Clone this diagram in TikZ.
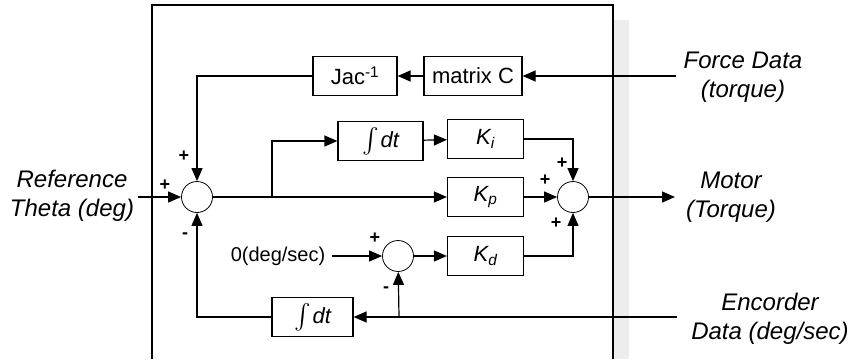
\documentclass[tikz,border=0pt]{standalone}
\usepackage{exscale}
\usepackage{fontspec}
\setmainfont{Liberation Sans}
\usetikzlibrary{arrows.meta,positioning}

\begin{document}
\begin{tikzpicture}[x=1pt, y=-1pt,
  block/.style={rectangle, draw, line width=1.2pt, inner sep=0pt,
                minimum width=#1, minimum height=39pt,
                font=\fontsize{22}{26}\selectfont},
  block/.default=76pt,
  sum/.style={circle, draw, line width=0.8pt, minimum size=31pt, inner sep=0pt},
  io/.style={align=center, font=\fontsize{24}{29}\selectfont\itshape},
  sgn/.style={font=\fontsize{18}{18}\selectfont\bfseries, inner sep=0pt},
  arr/.style={-{Triangle[length=13pt,width=11pt]}, line width=1.2pt}
]
  \newcommand{\intdt}{{\fontsize{25}{25}\selectfont$\int$}\kern2pt\itshape dt}
  \useasboundingbox (0,0) rectangle (854,359);
  % scan shading next to the frame
  \fill[gray!14] (614,20) rectangle (629,359);
  % controller frame
  \draw[line width=1.3pt] (152,359) -- (152,5) -- (613,5) -- (613,359);

  % blocks
  \node[block=84pt] (jac)  at (355,76)    {Jac\textsuperscript{-1}};
  \node[block=98pt] (matC) at (473,76)    {matrix C};
  \node[block=85pt] (intA) at (380.5,141) {\intdt};
  \node[block]      (ki)   at (485.5,139) {\itshape K\textsubscript{i}};
  \node[block]      (kp)   at (485.5,197) {\itshape K\textsubscript{p}};
  \node[block]      (kd)   at (485.5,256) {\itshape K\textsubscript{d}};
  \node[block=81pt] (intB) at (312.5,317) {\intdt};

  % summing points
  \node[sum] (sumA) at (197,197) {};
  \node[sum] (sumB) at (573,197) {};
  \node[sum] (sumC) at (398,256) {};

  % outside signals
  \node[io] (refT)   at (72,196)  {Reference\\Theta (deg)};
  \node[io] (forceT) at (743,77)  {Force Data\\(torque)};
  \node[io] (motorT) at (731,197) {Motor\\(Torque)};
  \node[io] (encT)   at (770,319) {Encorder\\Data (deg/sec)};
  \node[font=\fontsize{20}{24}\selectfont] (zeroT) at (278,256) {0(deg/sec)};

  \coordinate (refIn)  at (138,197);
  \coordinate (fIn)    at (676,76);
  \coordinate (mOut)   at (675,197);
  \coordinate (encIn)  at (677,317);
  \coordinate (brA)    at (272,197);
  \coordinate (brB)    at (399,317);

  % connectors
  \draw[arr] (fIn) -- (matC);
  \draw[arr] (matC) -- (jac);
  \draw[arr] (jac) -| (sumA);
  \draw[arr] (refIn) -- (sumA);
  \draw[arr] (sumA) -- (kp);
  \draw[arr] (brA) |- (intA);
  \draw[arr] (intA) -- (ki);
  \draw[arr] (ki) -| (sumB);
  \draw[arr] (kp) -- (sumB);
  \draw[arr] (kd) -| (sumB);
  \draw[arr] (sumB) -- (mOut);
  \draw[arr] (zeroT.east) ++(3,0) -- (sumC);
  \draw[arr] (sumC) -- (kd);
  \draw[arr] (encIn) -- (intB);
  \draw[arr] (brB) -- (sumC);
  \draw[arr] (intB) -| (sumA);

  % signs
  \node[sgn] at (184,156) {+};
  \node[sgn] at (165,185) {+};
  \node[sgn] at (185,236) {-};
  \node[sgn] at (562,163) {+};
  \node[sgn] at (545,180) {+};
  \node[sgn] at (556,223) {+};
  \node[sgn] at (375,238) {+};
  \node[sgn] at (386,290) {-};
\end{tikzpicture}
\end{document}
